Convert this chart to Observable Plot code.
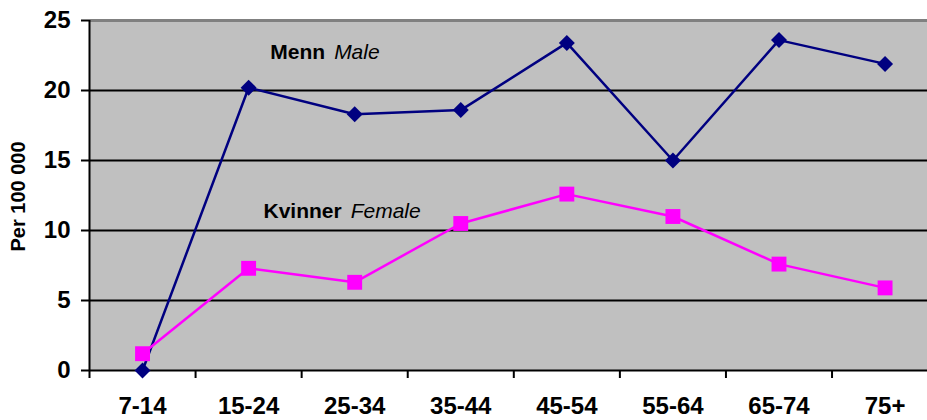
<!DOCTYPE html>
<html>
<head>
<meta charset="utf-8">
<script src="https://cdn.jsdelivr.net/npm/d3@7"></script>
<script src="https://cdn.jsdelivr.net/npm/@observablehq/plot@0.6"></script>
<style>
  html, body { margin: 0; padding: 0; background: #fff; overflow: hidden; }
  #chart svg { display: block; }
</style>
</head>
<body>
<div id="chart"></div>
<script>
const ageGroups = ["7-14", "15-24", "25-34", "35-44", "45-54", "55-64", "65-74", "75+"];
const male = [0, 20.2, 18.3, 18.6, 23.4, 15.0, 23.6, 21.9];
const female = [1.2, 7.3, 6.3, 10.5, 12.6, 11.0, 7.6, 5.9];
const yTicks = [0, 5, 10, 15, 20, 25];
const gridValues = [5, 10, 15, 20];
const maleLabel = ["Menn", "Male"];
const femaleLabel = ["Kvinner", "Female"];
const yTitle = "Per 100 000";

const rows = ageGroups.map((g, i) => ({i, g, male: male[i], female: female[i]}));
const boundaries = d3.range(ageGroups.length).map(i => i - 0.5);
const font = "'Liberation Sans', Arial, Helvetica, sans-serif";

const chart = Plot.plot({
  width: 927,
  height: 420,
  marginLeft: 89,
  marginRight: 0,
  marginTop: 20,
  marginBottom: 50,
  style: {fontFamily: font, background: "transparent", color: "#000"},
  x: {type: "linear", domain: [-0.5, 7.4]},
  y: {domain: [0, 25]},
  marks: [
    Plot.frame({fill: "#c0c0c0", stroke: null}),
    Plot.ruleY(gridValues, {stroke: "#000", strokeWidth: 2}),
    Plot.ruleY([25], {stroke: "#808080", strokeWidth: 3}),
    Plot.ruleY([0], {stroke: "#000", strokeWidth: 2}),
    Plot.ruleX([-0.5], {stroke: "#000", strokeWidth: 2}),
    Plot.axisY({ticks: yTicks, tickSize: 8, tickPadding: 11, fontSize: 24, fontWeight: "bold", label: null, strokeWidth: 2, stroke: "#000"}),
    Plot.axisX({ticks: boundaries, tickSize: 8, tickFormat: () => "", label: null, strokeWidth: 2, stroke: "#000"}),
    Plot.text(rows, {x: "i", text: "g", frameAnchor: "bottom", lineAnchor: "bottom", dy: 43, fontSize: 24, fontWeight: "bold", fill: "#000"}),
    Plot.line(rows, {x: "i", y: "male", stroke: "#000080", strokeWidth: 2.5}),
    Plot.dot(rows, {x: "i", y: "male", symbol: "diamond2", r: 7.2, fill: "#000080", stroke: null}),
    Plot.line(rows, {x: "i", y: "female", stroke: "#ff00ff", strokeWidth: 2.5}),
    Plot.dot(rows, {x: "i", y: "female", symbol: "square", r: 8.4, fill: "#ff00ff", stroke: null}),
    Plot.text([maleLabel[0]], {x: 1.759, y: 22.75, text: d => d, textAnchor: "end", dx: -4, fontSize: 21, fontWeight: "bold", fill: "#000"}),
    Plot.text([maleLabel[1]], {x: 1.759, y: 22.75, text: d => d, textAnchor: "start", dx: 5, fontSize: 21, fontStyle: "italic", fill: "#000"}),
    Plot.text([femaleLabel[0]], {x: 1.915, y: 11.36, text: d => d, textAnchor: "end", dx: -4, fontSize: 21, fontWeight: "bold", fill: "#000"}),
    Plot.text([femaleLabel[1]], {x: 1.915, y: 11.36, text: d => d, textAnchor: "start", dx: 5, fontSize: 21, fontStyle: "italic", fill: "#000"}),
    Plot.text([yTitle], {frameAnchor: "left", textAnchor: "middle", lineAnchor: "middle", dx: -71, dy: 1, rotate: -90, text: d => d, fontSize: 20, fontWeight: "bold", fill: "#000"})
  ]
});
document.getElementById("chart").appendChild(chart);
</script>
</body>
</html>
